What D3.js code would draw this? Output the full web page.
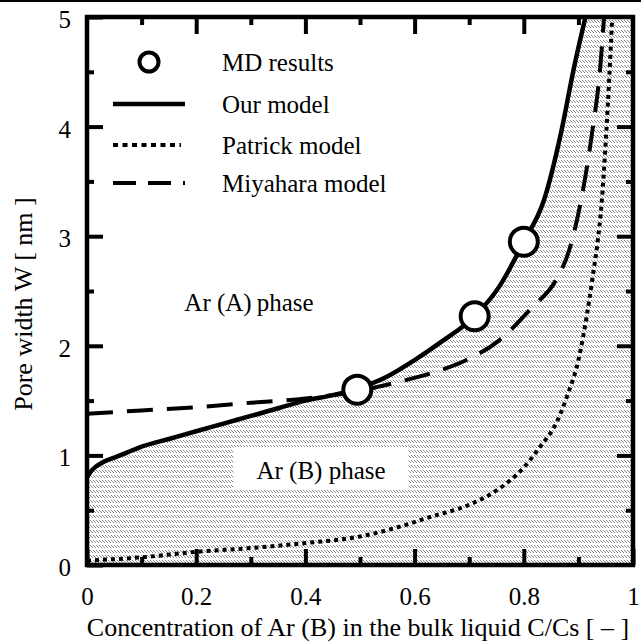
<!DOCTYPE html>
<html lang="en">
	<head>
		<meta charset="utf-8">
		<title>Pore width vs concentration</title>
		<script type="text/javascript" src="https://cdn.jsdelivr.net/npm/d3@7"></script>
		<style type="text/css">
			body { margin: 0; background: #fff; }
			svg text { font-family: "Liberation Serif", "Times New Roman", serif !important; fill: #000; }
		</style>
	</head>
	<body>
		<script type="text/javascript">

            var w = 641;
            var h = 643;
            var margin = {top: 17, right: 8, bottom: 78, left: 87};
            var serif = "'Liberation Serif', 'Times New Roman', serif";

            // MD results (circles)
            var mdX = [0.495, 0.71, 0.8];
            var mdY = [1.6, 2.27, 2.95];

            // Our model (solid)
            var ourX = [0, 0.01, 0.03, 0.05, 0.08, 0.1, 0.15, 0.2, 0.25, 0.3, 0.35, 0.4, 0.45, 0.495, 0.55, 0.6, 0.65, 0.71, 0.755, 0.8, 0.837, 0.868, 0.892, 0.913];
            var ourY = [0.8, 0.87, 0.94, 0.98, 1.04, 1.08, 1.15, 1.22, 1.29, 1.36, 1.43, 1.5, 1.55, 1.61, 1.72, 1.87, 2.04, 2.27, 2.54, 2.95, 3.33, 3.94, 4.54, 5.0];

            // Patrick model (dotted)
            var patX = [0, 0.1, 0.2, 0.3, 0.4, 0.5, 0.58, 0.63, 0.7, 0.75, 0.8, 0.83, 0.86, 0.88, 0.9, 0.91, 0.92, 0.927, 0.934, 0.943, 0.951, 0.962];
            var patY = [0.04, 0.07, 0.12, 0.155, 0.2, 0.26, 0.36, 0.44, 0.55, 0.68, 0.89, 1.08, 1.3, 1.55, 1.87, 2.12, 2.42, 2.66, 2.9, 3.33, 3.94, 5.0];

            // Miyahara model (dashed)
            var miyX = [0, 0.1, 0.2, 0.3, 0.4, 0.45, 0.5, 0.57, 0.63, 0.695, 0.755, 0.815, 0.859, 0.883, 0.905, 0.925, 0.94, 0.947];
            var miyY = [1.38, 1.41, 1.44, 1.48, 1.52, 1.55, 1.59, 1.67, 1.75, 1.87, 2.05, 2.35, 2.6, 2.87, 3.33, 3.94, 4.54, 5.0];

            var xTicks = [0, 0.2, 0.4, 0.6, 0.8, 1];
            var xMinor = [0.1, 0.3, 0.5, 0.7, 0.9];
            var yTicks = [0, 1, 2, 3, 4, 5];
            var yMinor = [0.5, 1.5, 2.5, 3.5, 4.5];

            var legendNames = ["MD results", "Our model", "Patrick model", "Miyahara model"];

            function zip(xs, ys){
                return xs.map(function(d, i){ return {x: d, y: ys[i]}; });
            }

            var x = d3.scaleLinear().domain([0, 1]).range([margin.left, w - margin.right]);
            var y = d3.scaleLinear().domain([0, 5]).range([h - margin.bottom, margin.top]);

            var svg = d3.select("body")
                        .append("svg")
                        .attr("width", w)
                        .attr("height", h);

            // hatch pattern: bands of small diagonal strokes
            var pat = svg.append("defs").append("pattern")
                        .attr("id", "hatch")
                        .attr("patternUnits", "userSpaceOnUse")
                        .attr("width", 3)
                        .attr("height", 5);
            pat.append("rect").attr("width", 3).attr("height", 5).attr("fill", "#fff");
            [0, 1, 2].forEach(function(k){
                pat.append("rect").attr("x", k).attr("y", k).attr("width", 1).attr("height", 1).attr("fill", "#8a8a8a");
            });

            svg.append("clipPath").attr("id", "plotclip")
                .append("rect")
                .attr("x", x(0)).attr("y", y(5))
                .attr("width", x(1) - x(0)).attr("height", y(0) - y(5));

            // top border line of the picture
            svg.append("line")
                .attr("x1", 0).attr("x2", w)
                .attr("y1", 1).attr("y2", 1)
                .attr("stroke", "#000").attr("stroke-width", 2);

            var plot = svg.append("g").attr("clip-path", "url(#plotclip)");

            // hatched Ar(B) region: under our model, then everything to its right
            var areaData = zip(ourX, ourY).concat([{x: x.domain()[1], y: y.domain()[1]}]);
            var area = d3.area()
                        .x(function(d){ return x(d.x); })
                        .y0(y(0))
                        .y1(function(d){ return y(d.y); })
                        .curve(d3.curveMonotoneX);
            plot.append("path")
                .attr("d", area(areaData))
                .attr("fill", "url(#hatch)");

            var line = d3.line()
                        .x(function(d){ return x(d.x); })
                        .y(function(d){ return y(d.y); })
                        .curve(d3.curveMonotoneX);

            plot.append("path")
                .attr("d", line(zip(patX, patY)))
                .attr("fill", "none")
                .attr("stroke", "#000")
                .attr("stroke-width", 4)
                .attr("stroke-dasharray", "4,4");

            plot.append("path")
                .attr("d", line(zip(miyX, miyY)))
                .attr("fill", "none")
                .attr("stroke", "#000")
                .attr("stroke-width", 4)
                .attr("stroke-dasharray", "26,14");

            plot.append("path")
                .attr("d", line(zip(ourX, ourY)))
                .attr("fill", "none")
                .attr("stroke", "#000")
                .attr("stroke-width", 4.5)
                .attr("stroke-linejoin", "round");

            plot.selectAll("circle.md")
                .data(zip(mdX, mdY))
                .enter()
                .append("circle")
                .attr("class", "md")
                .attr("cx", function(d){ return x(d.x); })
                .attr("cy", function(d){ return y(d.y); })
                .attr("r", 14)
                .attr("fill", "#fff")
                .attr("stroke", "#000")
                .attr("stroke-width", 4);

            // phase labels
            svg.append("text")
                .attr("x", 249).attr("y", 302)
                .attr("dy", "0.35em")
                .attr("text-anchor", "middle")
                .style("font-family", serif)
                .style("font-size", "25px")
                .text("Ar (A)\u2009phase");

            var bLabel = svg.append("text")
                .attr("x", 321).attr("y", 470)
                .attr("dy", "0.35em")
                .attr("text-anchor", "middle")
                .style("font-family", serif)
                .style("font-size", "25px")
                .text("Ar (B) phase");
            var bb = bLabel.node().getBBox();
            svg.insert("rect", "text")
                .attr("x", bb.x - 23).attr("y", 447)
                .attr("width", bb.width + 46).attr("height", 42)
                .attr("fill", "#fff");

            // axes with inward ticks
            function styleAxis(g){
                g.attr("font-family", null);
                g.select(".domain").remove();
                g.selectAll(".tick line").attr("stroke", "#000").attr("stroke-width", 4);
                g.selectAll(".tick text")
                    .style("font-family", serif)
                    .style("font-size", "25px");
            }

            var fmt = function(d){ return d3.format("")(d); };

            svg.append("g")
                .attr("transform", "translate(0," + y(0) + ")")
                .call(d3.axisBottom(x).tickValues(xTicks).tickSize(-16).tickPadding(40).tickFormat(fmt))
                .call(styleAxis)
                .selectAll(".tick text").attr("dy", null);
            svg.append("g")
                .attr("transform", "translate(0," + y(0) + ")")
                .call(d3.axisBottom(x).tickValues(xMinor).tickSize(-8).tickFormat(""))
                .call(styleAxis);
            svg.append("g")
                .attr("transform", "translate(0," + y(5) + ")")
                .call(d3.axisTop(x).tickValues(xTicks.slice(1, 5)).tickSize(-17).tickFormat(""))
                .call(styleAxis);
            svg.append("g")
                .attr("transform", "translate(0," + y(5) + ")")
                .call(d3.axisTop(x).tickValues(xMinor).tickSize(-8).tickFormat(""))
                .call(styleAxis);

            svg.append("g")
                .attr("transform", "translate(" + x(0) + ",0)")
                .call(d3.axisLeft(y).tickValues(yTicks).tickSize(-16).tickPadding(16).tickFormat(fmt))
                .call(styleAxis)
                .selectAll(".tick text").attr("dy", "0.42em");
            svg.append("g")
                .attr("transform", "translate(" + x(0) + ",0)")
                .call(d3.axisLeft(y).tickValues(yMinor).tickSize(-7).tickFormat(""))
                .call(styleAxis);
            svg.append("g")
                .attr("transform", "translate(" + x(1) + ",0)")
                .call(d3.axisRight(y).tickValues(yTicks.slice(1, 5)).tickSize(-16).tickFormat(""))
                .call(styleAxis);
            svg.append("g")
                .attr("transform", "translate(" + x(1) + ",0)")
                .call(d3.axisRight(y).tickValues(yMinor).tickSize(-7).tickFormat(""))
                .call(styleAxis);

            // frame
            svg.append("rect")
                .attr("x", x(0)).attr("y", y(5))
                .attr("width", x(1) - x(0)).attr("height", y(0) - y(5))
                .attr("fill", "none")
                .attr("stroke", "#000")
                .attr("stroke-width", 4.5);

            // axis titles
            svg.append("text")
                .attr("x", (x(0) + x(1)) / 2 - 2)
                .attr("y", 636)
                .attr("text-anchor", "middle")
                .style("font-family", serif)
                .style("font-size", "26px")
                .text("Concentration of Ar (B) in the bulk liquid  C/Cs [ \u2013 ]");

            svg.append("text")
                .attr("transform", "translate(32," + 304 + ") rotate(-90)")
                .attr("text-anchor", "middle")
                .style("font-family", serif)
                .style("font-size", "26px")
                .text("Pore width W [ nm ]");

            // legend
            var lx1 = 113, lx2 = 185, ltx = 222;
            var ly = [62, 104, 145, 183];
            var leg = svg.append("g");
            leg.append("circle")
                .attr("cx", (lx1 + lx2) / 2).attr("cy", ly[0])
                .attr("r", 9.5)
                .attr("fill", "#fff").attr("stroke", "#000").attr("stroke-width", 4);
            leg.append("line")
                .attr("x1", lx1).attr("x2", lx2).attr("y1", ly[1]).attr("y2", ly[1])
                .attr("stroke", "#000").attr("stroke-width", 4.5);
            leg.append("line")
                .attr("x1", lx1).attr("x2", lx2 - 4).attr("y1", ly[2]).attr("y2", ly[2])
                .attr("stroke", "#000").attr("stroke-width", 4)
                .attr("stroke-dasharray", "5,4.5");
            leg.append("line")
                .attr("x1", lx1).attr("x2", lx2).attr("y1", ly[3]).attr("y2", ly[3])
                .attr("stroke", "#000").attr("stroke-width", 4)
                .attr("stroke-dasharray", "23,12");
            leg.selectAll("text")
                .data(legendNames)
                .enter()
                .append("text")
                .attr("x", ltx)
                .attr("y", function(d, i){ return ly[i]; })
                .attr("dy", "0.35em")
                .style("font-family", serif)
                .style("font-size", "25px")
                .text(function(d){ return d; });

		</script>
	</body>
</html>
